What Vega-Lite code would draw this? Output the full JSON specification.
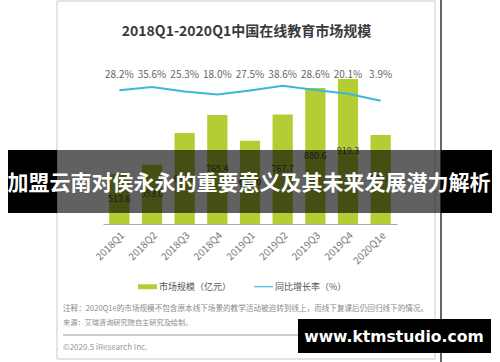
{
  "$schema": "https://vega.github.io/schema/vega-lite/v6.json",
  "width": 294,
  "height": 164,
  "autosize": {"type": "none"},
  "padding": {"left": 103, "top": 60, "right": 103, "bottom": 138},
  "background": "white",
  "config": {
    "view": {"stroke": null},
    "font": "Noto Sans CJK SC"
  },
  "datasets": {
    "edu": [
      {"q": "2018Q1", "size": 513.6, "rate": 0.282},
      {"q": "2018Q2", "size": 553.0, "rate": 0.356},
      {"q": "2018Q3", "size": 688.0, "rate": 0.253},
      {"q": "2018Q4", "size": 765.4, "rate": 0.180},
      {"q": "2019Q1", "size": 655.0, "rate": 0.275},
      {"q": "2019Q2", "size": 767.7, "rate": 0.386},
      {"q": "2019Q3", "size": 880.6, "rate": 0.286},
      {"q": "2019Q4", "size": 919.3, "rate": 0.201},
      {"q": "2020Q1e", "size": 680.0, "rate": 0.039}
    ]
  },
  "layer": [
    {
      "data": {"values": [{"part": "card"}]},
      "layer": [
        {
          "mark": {"type": "rect", "fill": null, "stroke": "#c9c9c9", "strokeWidth": 1},
          "encoding": {
            "x": {"datum": 57, "type": "quantitative", "scale": {"domain": [0, 500], "range": [-103, 397], "nice": false, "zero": false}, "axis": null},
            "x2": {"datum": 435},
            "y": {"datum": 1, "type": "quantitative", "scale": {"domain": [0, 362], "range": [-60, 302], "nice": false, "zero": false}, "axis": null},
            "y2": {"datum": 359}
          }
        },
        {
          "mark": {"type": "rule", "stroke": "#333333", "strokeWidth": 1.5},
          "encoding": {
            "x": {"datum": 441, "type": "quantitative", "scale": {"domain": [0, 500], "range": [-103, 397], "nice": false, "zero": false}, "axis": null},
            "y": {"datum": 0, "type": "quantitative", "scale": {"domain": [0, 362], "range": [-60, 302], "nice": false, "zero": false}, "axis": null},
            "y2": {"datum": 362}
          }
        },
        {
          "mark": {"type": "text", "text": "2018Q1-2020Q1中国在线教育市场规模", "align": "center", "baseline": "middle", "fontSize": 14, "fontWeight": "bold", "color": "#3a3a3a"},
          "encoding": {
            "x": {"datum": 246.5, "type": "quantitative", "scale": {"domain": [0, 500], "range": [-103, 397], "nice": false, "zero": false}, "axis": null},
            "y": {"datum": 32, "type": "quantitative", "scale": {"domain": [0, 362], "range": [-60, 302], "nice": false, "zero": false}, "axis": null}
          }
        },
        {
          "mark": {"type": "text", "text": "注释：2020Q1e的市场规模不包含原本线下场景的教学活动被迫转到线上，而线下复课后仍回归线下的情况。", "align": "left", "baseline": "middle", "fontSize": 7.6, "color": "#8a8a8a"},
          "encoding": {
            "x": {"datum": 63, "type": "quantitative", "scale": {"domain": [0, 500], "range": [-103, 397], "nice": false, "zero": false}, "axis": null},
            "y": {"datum": 309, "type": "quantitative", "scale": {"domain": [0, 362], "range": [-60, 302], "nice": false, "zero": false}, "axis": null}
          }
        },
        {
          "mark": {"type": "text", "text": "来源：艾瑞咨询研究院自主研究及绘制。", "align": "left", "baseline": "middle", "fontSize": 7.2, "color": "#8a8a8a"},
          "encoding": {
            "x": {"datum": 63, "type": "quantitative", "scale": {"domain": [0, 500], "range": [-103, 397], "nice": false, "zero": false}, "axis": null},
            "y": {"datum": 323, "type": "quantitative", "scale": {"domain": [0, 362], "range": [-60, 302], "nice": false, "zero": false}, "axis": null}
          }
        },
        {
          "mark": {"type": "rule", "stroke": "#9a9a9a", "strokeWidth": 1},
          "encoding": {
            "x": {"datum": 63, "type": "quantitative", "scale": {"domain": [0, 500], "range": [-103, 397], "nice": false, "zero": false}, "axis": null},
            "x2": {"datum": 430},
            "y": {"datum": 335, "type": "quantitative", "scale": {"domain": [0, 362], "range": [-60, 302], "nice": false, "zero": false}, "axis": null}
          }
        },
        {
          "mark": {"type": "text", "text": "©2020.5 iResearch Inc.", "align": "left", "baseline": "middle", "fontSize": 8, "color": "#999999"},
          "encoding": {
            "x": {"datum": 63, "type": "quantitative", "scale": {"domain": [0, 500], "range": [-103, 397], "nice": false, "zero": false}, "axis": null},
            "y": {"datum": 348, "type": "quantitative", "scale": {"domain": [0, 362], "range": [-60, 302], "nice": false, "zero": false}, "axis": null}
          }
        },
        {
          "mark": {"type": "text", "text": "www.iresearch.com.cn", "align": "right", "baseline": "middle", "fontSize": 8, "color": "#999999"},
          "encoding": {
            "x": {"datum": 430, "type": "quantitative", "scale": {"domain": [0, 500], "range": [-103, 397], "nice": false, "zero": false}, "axis": null},
            "y": {"datum": 348, "type": "quantitative", "scale": {"domain": [0, 362], "range": [-60, 302], "nice": false, "zero": false}, "axis": null}
          }
        }
      ]
    },
    {
      "data": {"name": "edu"},
      "layer": [
        {
          "mark": {"type": "bar"},
          "encoding": {
            "x": {
              "field": "q", "type": "nominal", "sort": null,
              "scale": {"paddingInner": 0.38, "paddingOuter": 0.19},
              "axis": {"title": null, "labelAngle": -45, "labelFontSize": 10, "labelColor": "#777777", "domainColor": "#aaaaaa", "ticks": false, "labelPadding": 6, "grid": false, "zindex": 1}
            },
            "y": {"field": "size", "type": "quantitative", "scale": {"domain": [300, 1000], "nice": false}, "axis": null},
            "y2": {"datum": 300},
            "color": {
              "datum": "市场规模（亿元）",
              "scale": {"domain": ["市场规模（亿元）", "同比增长率（%）"], "range": ["#b5cd34", "#3cb7d9"]},
              "legend": {
                "orient": "none", "legendX": 35, "legendY": 217, "direction": "horizontal",
                "title": null, "labelFontSize": 9, "labelColor": "#555555", "symbolSize": 361,
                "columnPadding": 22, "labelOffset": 2, "padding": 0,
                "encode": {
                  "symbols": {
                    "update": {
                      "shape": {"signal": "datum.value === '市场规模（亿元）' ? 'M-1,-0.26H1V0.26H-1Z' : 'M-1,-0.06H1V0.06H-1Z'"},
                      "fill": {"signal": "datum.value === '市场规模（亿元）' ? '#b5cd34' : '#3cb7d9'"},
                      "strokeWidth": {"value": 0},
                      "opacity": {"value": 1}
                    }
                  }
                }
              }
            }
          }
        },
        {
          "mark": {"type": "text", "fontSize": 9, "color": "#444444", "baseline": "middle"},
          "encoding": {
            "x": {"field": "q", "type": "nominal", "sort": null},
            "y": {"field": "size", "type": "quantitative", "scale": {"domain": [300, 1700], "nice": false}, "axis": null},
            "text": {"field": "size", "type": "quantitative", "format": ".1f"}
          }
        },
        {
          "mark": {"type": "line", "strokeWidth": 2},
          "encoding": {
            "x": {"field": "q", "type": "nominal", "sort": null},
            "y": {"field": "rate", "type": "quantitative", "scale": {"domain": [-2.815, 0.981], "nice": false, "zero": false}, "axis": null},
            "color": {"datum": "同比增长率（%）"}
          }
        },
        {
          "mark": {"type": "text", "fontSize": 10, "color": "#666666", "baseline": "middle"},
          "encoding": {
            "x": {"field": "q", "type": "nominal", "sort": null},
            "y": {"datum": 0.634, "type": "quantitative", "scale": {"domain": [-2.815, 0.981], "nice": false, "zero": false}, "axis": null},
            "text": {"field": "rate", "type": "quantitative", "format": ".1%"}
          }
        }
      ],
      "resolve": {"scale": {"y": "independent"}}
    },
    {
      "data": {"values": [{"part": "overlay"}]},
      "layer": [
        {
          "mark": {"type": "rect", "fill": "black"},
          "encoding": {
            "x": {"datum": 8, "type": "quantitative", "scale": {"domain": [0, 500], "range": [-103, 397], "nice": false, "zero": false}, "axis": null},
            "x2": {"datum": 57},
            "y": {"datum": 150, "type": "quantitative", "scale": {"domain": [0, 362], "range": [-60, 302], "nice": false, "zero": false}, "axis": null},
            "y2": {"datum": 213}
          }
        },
        {
          "mark": {"type": "rect", "fill": "black"},
          "encoding": {
            "x": {"datum": 441, "type": "quantitative", "scale": {"domain": [0, 500], "range": [-103, 397], "nice": false, "zero": false}, "axis": null},
            "x2": {"datum": 492},
            "y": {"datum": 150, "type": "quantitative", "scale": {"domain": [0, 362], "range": [-60, 302], "nice": false, "zero": false}, "axis": null},
            "y2": {"datum": 213}
          }
        },
        {
          "mark": {"type": "rect", "fill": "black", "opacity": 0.62},
          "encoding": {
            "x": {"datum": 57, "type": "quantitative", "scale": {"domain": [0, 500], "range": [-103, 397], "nice": false, "zero": false}, "axis": null},
            "x2": {"datum": 441},
            "y": {"datum": 150, "type": "quantitative", "scale": {"domain": [0, 362], "range": [-60, 302], "nice": false, "zero": false}, "axis": null},
            "y2": {"datum": 213}
          }
        },
        {
          "mark": {"type": "text", "text": "加盟云南对侯永永的重要意义及其未来发展潜力解析", "align": "center", "baseline": "middle", "fontSize": 21, "fontWeight": "bold", "color": "white", "font": "Noto Sans CJK SC"},
          "encoding": {
            "x": {"datum": 249, "type": "quantitative", "scale": {"domain": [0, 500], "range": [-103, 397], "nice": false, "zero": false}, "axis": null},
            "y": {"datum": 184, "type": "quantitative", "scale": {"domain": [0, 362], "range": [-60, 302], "nice": false, "zero": false}, "axis": null}
          }
        },
        {
          "mark": {"type": "rect", "fill": "black"},
          "encoding": {
            "x": {"datum": 298, "type": "quantitative", "scale": {"domain": [0, 500], "range": [-103, 397], "nice": false, "zero": false}, "axis": null},
            "x2": {"datum": 491},
            "y": {"datum": 319, "type": "quantitative", "scale": {"domain": [0, 362], "range": [-60, 302], "nice": false, "zero": false}, "axis": null},
            "y2": {"datum": 353}
          }
        },
        {
          "mark": {"type": "text", "text": "www.ktmstudio.com", "align": "center", "baseline": "middle", "fontSize": 15.6, "fontWeight": "bold", "color": "white", "font": "DejaVu Sans"},
          "encoding": {
            "x": {"datum": 394, "type": "quantitative", "scale": {"domain": [0, 500], "range": [-103, 397], "nice": false, "zero": false}, "axis": null},
            "y": {"datum": 337, "type": "quantitative", "scale": {"domain": [0, 362], "range": [-60, 302], "nice": false, "zero": false}, "axis": null}
          }
        }
      ]
    }
  ],
  "resolve": {"scale": {"x": "independent", "y": "independent"}}
}
